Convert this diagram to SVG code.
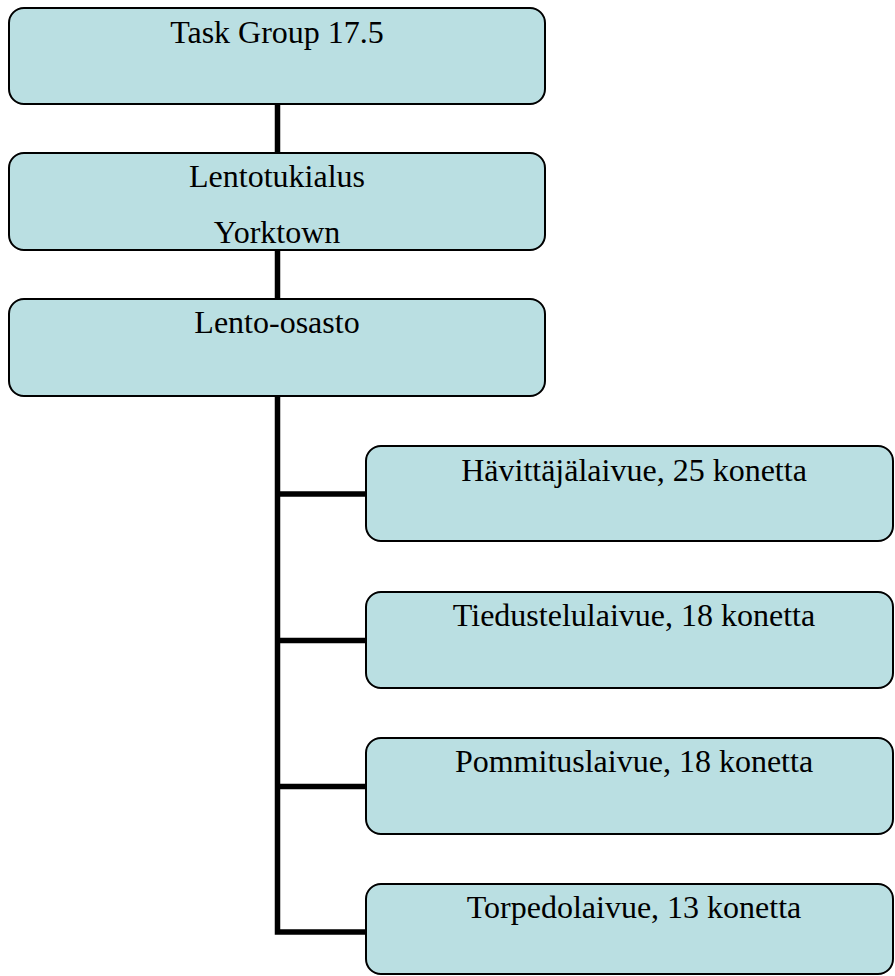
<svg xmlns="http://www.w3.org/2000/svg" width="895" height="976" viewBox="0 0 895 976">
  <style>
    .box { fill: #BADFE2; stroke: #000; stroke-width: 2; }
    .lbl { font-family: "Liberation Serif", "Times New Roman", serif; font-size: 32px; fill: #000; text-anchor: middle; }
    .conn { stroke: #000; stroke-width: 5.5; fill: none; stroke-linecap: butt; }
  </style>
  <rect x="0" y="0" width="895" height="976" fill="#fff"/>
  <g id="connectors">
    <line class="conn" x1="277.5" y1="104" x2="277.5" y2="153"/>
    <line class="conn" x1="277.5" y1="250" x2="277.5" y2="299"/>
    <polyline class="conn" points="277.5,396 277.5,932 366,932"/>
    <line class="conn" x1="277.5" y1="494" x2="366" y2="494"/>
    <line class="conn" x1="277.5" y1="640.5" x2="366" y2="640.5"/>
    <line class="conn" x1="277.5" y1="786.5" x2="366" y2="786.5"/>
  </g>
  <g id="task-group">
    <rect class="box" x="9" y="8" width="536" height="96" rx="15" ry="15"/>
    <text class="lbl" x="277" y="43">Task Group 17.5</text>
  </g>
  <g id="yorktown">
    <rect class="box" x="9" y="153" width="536" height="97" rx="15" ry="15"/>
    <text class="lbl" x="277" y="187">Lentotukialus</text>
    <text class="lbl" x="277" y="243">Yorktown</text>
  </g>
  <g id="lento-osasto">
    <rect class="box" x="9" y="299" width="536" height="97" rx="15" ry="15"/>
    <text class="lbl" x="277" y="333">Lento-osasto</text>
  </g>
  <g id="havittaja">
    <rect class="box" x="366" y="446" width="527" height="95" rx="15" ry="15"/>
    <text class="lbl" x="634" y="481">Hävittäjälaivue, 25 konetta</text>
  </g>
  <g id="tiedustelu">
    <rect class="box" x="366" y="592" width="527" height="96" rx="15" ry="15"/>
    <text class="lbl" x="634" y="626">Tiedustelulaivue, 18 konetta</text>
  </g>
  <g id="pommitus">
    <rect class="box" x="366" y="738" width="527" height="96" rx="15" ry="15"/>
    <text class="lbl" x="634" y="772">Pommituslaivue, 18 konetta</text>
  </g>
  <g id="torpedo">
    <rect class="box" x="366" y="884" width="527" height="90" rx="15" ry="15"/>
    <text class="lbl" x="634" y="918">Torpedolaivue, 13 konetta</text>
  </g>
</svg>
